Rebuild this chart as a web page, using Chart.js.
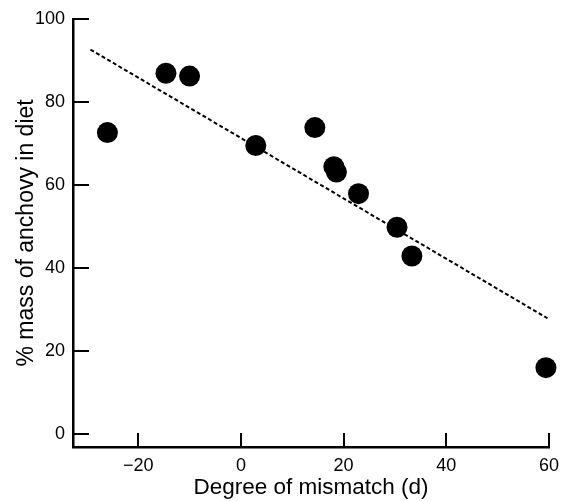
<!DOCTYPE html>
<html>
<head>
<meta charset="utf-8">
<script src="https://cdn.jsdelivr.net/npm/chart.js@4/dist/chart.umd.min.js"></script>
<style>
  html, body { margin: 0; padding: 0; background: #fff; }
  #wrap { width: 568px; height: 501px; }
</style>
</head>
<body>
<div id="wrap"><canvas id="mismatchChart"></canvas></div>
<script>
// data
var mismatch = [-26.0, -14.6, -10.0, 2.9, 14.4, 18.1, 18.6, 22.9, 30.4, 33.3, 59.4];
var anchovyPct = [72.6, 86.9, 86.2, 69.5, 73.8, 64.4, 63.1, 57.9, 49.8, 42.9, 16.0];
var trendX = [-29.3, 59.7];
var trendY = [92.6, 27.9];
var xTicks = [-20, 0, 20, 40, 60];
var yTicks = [0, 20, 40, 60, 80, 100];

var FONT = "'Liberation Sans', Arial, Helvetica, sans-serif";

// tick marks in the plot point inward, so draw them ourselves
var inwardTicks = {
  id: "inwardTicks",
  afterDraw: function (chart) {
    var ctx = chart.ctx;
    var area = chart.chartArea;
    var xs = chart.scales.x, ys = chart.scales.y;
    ctx.save();
    ctx.strokeStyle = "#000";
    ctx.lineWidth = 2;
    ctx.beginPath();
    yTicks.forEach(function (v) {
      var py = Math.round(ys.getPixelForValue(v));
      ctx.moveTo(area.left, py);
      ctx.lineTo(area.left + 16, py);
    });
    xTicks.forEach(function (v) {
      var px = Math.round(xs.getPixelForValue(v));
      ctx.moveTo(px, area.bottom);
      ctx.lineTo(px, area.bottom - 14);
    });
    ctx.stroke();
    ctx.restore();
  },
};

new Chart("mismatchChart", {
  type: "scatter",
  data: {
    datasets: [
      {
        type: "line",
        data: trendX.map(function (x, i) { return { x: x, y: trendY[i] }; }),
        borderColor: "#000",
        borderWidth: 2,
        borderDash: [4, 2.5],
        pointRadius: 0,
        fill: false,
        order: 2,
      },
      {
        data: mismatch.map(function (x, i) { return { x: x, y: anchovyPct[i] }; }),
        backgroundColor: "#000",
        borderWidth: 0,
        pointRadius: 10.5,
        pointHoverRadius: 10.5,
        clip: false,
        order: 1,
      },
    ],
  },
  options: {
    responsive: true,
    maintainAspectRatio: false,
    animation: false,
    layout: { padding: { top: 16, right: 19, left: 0, bottom: 0 } },
    plugins: {
      legend: { display: false },
      tooltip: { enabled: false },
    },
    scales: {
      x: {
        type: "linear",
        min: -32.7,
        max: 60,
        afterBuildTicks: function (scale) {
          scale.ticks = xTicks.map(function (v) { return { value: v }; });
        },
        afterFit: function (scale) { scale.height = 54; },
        grid: { display: false, drawTicks: false },
        border: { display: true, color: "#000", width: 2.5 },
        ticks: {
          padding: 8,
          color: "#000",
          font: { family: FONT, size: 18 },
          callback: function (v) { return v < 0 ? "\u2212" + Math.abs(v) : String(v); },
        },
        title: {
          display: true,
          text: "Degree of mismatch (d)",
          color: "#000",
          font: { family: FONT, size: 22.5 },
          padding: { top: 0, bottom: 0 },
        },
      },
      y: {
        type: "linear",
        min: -3.1,
        max: 100,
        afterBuildTicks: function (scale) {
          scale.ticks = yTicks.map(function (v) { return { value: v }; });
        },
        afterFit: function (scale) { scale.width = 73; },
        grid: { display: false, drawTicks: false },
        border: { display: true, color: "#000", width: 2.5 },
        ticks: {
          padding: 8,
          color: "#000",
          font: { family: FONT, size: 18 },
        },
        title: {
          display: true,
          text: "% mass of anchovy in diet",
          color: "#000",
          font: { family: FONT, size: 23 },
          padding: { top: 13, bottom: 0 },
        },
      },
    },
  },
  plugins: [inwardTicks],
});
</script>
</body>
</html>
